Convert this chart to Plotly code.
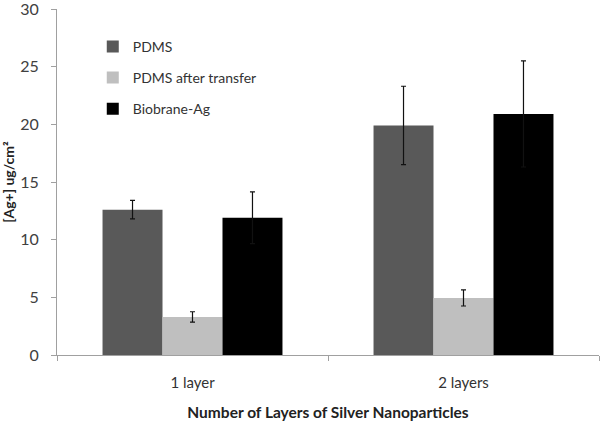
import plotly.graph_objects as go

categories = ["1 layer", "2 layers"]
series_names = ["PDMS", "PDMS after transfer", "Biobrane-Ag"]
pdms = [12.6, 19.9]
pdms_err = [0.8, 3.4]
pdms_after = [3.3, 4.95]
pdms_after_err = [0.45, 0.7]
biobrane = [11.9, 20.9]
biobrane_err = [2.25, 4.6]
colors = ["#595959", "#bfbfbf", "#000000"]

values = [pdms, pdms_after, biobrane]
errors = [pdms_err, pdms_after_err, biobrane_err]

font_family = "Lato, 'Open Sans', sans-serif"

fig = go.Figure()
for i, (name, vals, errs, col) in enumerate(zip(series_names, values, errors, colors)):
    fig.add_trace(go.Bar(
        x=categories, y=vals, name=name,
        marker=dict(color=col, line=dict(width=0)),
        error_y=dict(type="data", array=errs, visible=True,
                     color="#111111", thickness=1.2, width=2.5),
        legendgroup=f"g{i}",
    ))

fig.update_layout(
    width=601, height=421,
    margin=dict(l=57, r=2, t=9, b=66, autoexpand=False),
    paper_bgcolor="white", plot_bgcolor="white",
    barmode="group", bargap=0.336, bargroupgap=0,
    font=dict(family=font_family, color="#333333"),
    showlegend=True,
    legend=dict(x=0.066, y=0.937, xanchor="left", yanchor="top",
                bgcolor="rgba(0,0,0,0)", font=dict(size=14, color="#333333"),
                traceorder="grouped", tracegroupgap=10,
                itemwidth=30),
    xaxis=dict(
        automargin=False,
        showline=True, linecolor="#a0a0a0", linewidth=1,
        ticks="outside", tickson="boundaries", ticklen=5, tickcolor="#a0a0a0",
        tickfont=dict(size=15, color="#333333"),
        ticklabelstandoff=14,
        title=dict(text="<b>Number of Layers of Silver Nanoparticles</b>",
                   font=dict(size=15.5, color="#222222"), standoff=18),
        showgrid=False,
    ),
    yaxis=dict(
        automargin=False,
        range=[0, 30], dtick=5,
        showline=True, linecolor="#a0a0a0", linewidth=1,
        ticks="outside", ticklen=5, tickcolor="#a0a0a0",
        tickfont=dict(size=16, color="#404040"),
        ticklabelstandoff=9, ticklabeloverflow="allow",
        title=dict(text="<b>[Ag+] ug/cm²</b>", font=dict(size=14, color="#222222"),
                   standoff=10),
        showgrid=False, zeroline=False,
    ),
)

fig.write_html("out.html",
               config={"displayModeBar": False},
               post_script="document.body.style.margin='0';document.body.style.padding='0';")
